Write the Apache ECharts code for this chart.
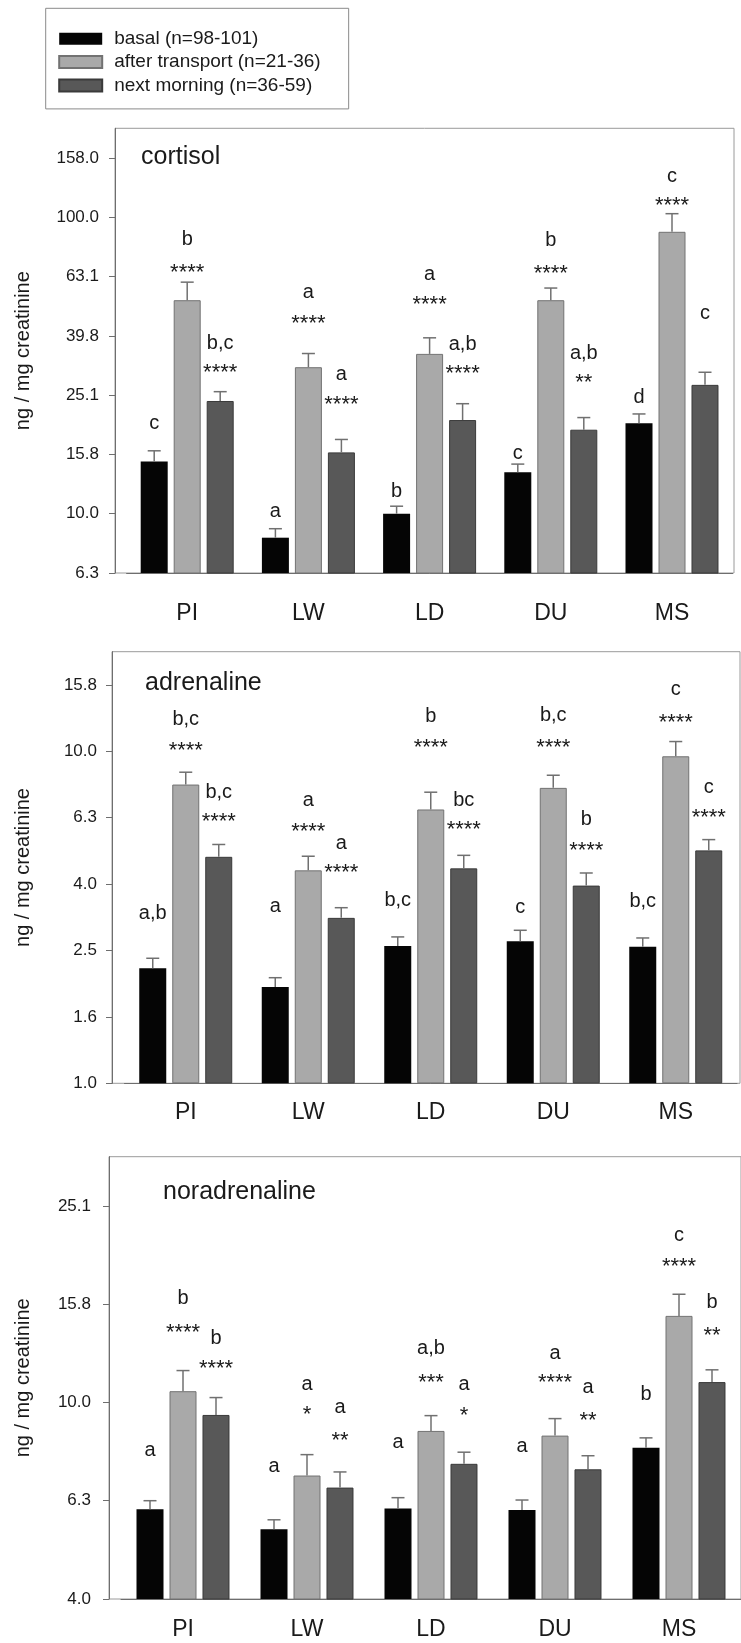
<!DOCTYPE html>
<html><head><meta charset="utf-8">
<script src="https://cdn.jsdelivr.net/npm/echarts@6/dist/echarts.min.js"></script>
<style>html,body{margin:0;padding:0;background:#fff}#c{width:741px;height:1643px}</style>
</head><body><div id="c"></div>
<script>
// ---------- data ----------
const categories = ['PI', 'LW', 'LD', 'DU', 'MS'];
const seriesNames = ['basal (n=98-101)', 'after transport (n=21-36)', 'next morning (n=36-59)'];
const yAxisName = 'ng / mg creatinine';
const panelTitles = ['cortisol', 'adrenaline', 'noradrenaline'];

// cortisol (ng / mg creatinine), mean and upper error (SE)
const cortisolBasal = [15.0, 8.3, 10.0, 13.8, 20.2];
const cortisolBasalSE = [1.3, 0.6, 0.6, 0.9, 1.5];
const cortisolAfter = [52.5, 31.2, 34.6, 52.5, 89.3];
const cortisolAfterSE = [7.9, 3.5, 4.6, 5.2, 13.5];
const cortisolNext = [24.0, 16.1, 20.7, 19.2, 27.2];
const cortisolNextSE = [1.8, 1.7, 2.8, 1.9, 2.8];
const cortisolTickLabels = ['6.3', '10.0', '15.8', '25.1', '39.8', '63.1', '100.0', '158.0'];
const cortisolLetters = [['c', 'b', 'b,c'], ['a', 'a', 'a'], ['b', 'a', 'a,b'], ['c', 'b', 'a,b'], ['d', 'c', 'c']];
const cortisolLetterY = [[20.1, 84.4, 37.5], [10.2, 55.6, 29.4], [11.9, 64.1, 37.2], [16.0, 83.7, 34.8], [24.6, 137.7, 47.5]];
const cortisolStars = [['', '****', '****'], ['', '****', '****'], ['', '****', '****'], ['', '****', '**'], ['', '****', '']];
const cortisolStarY = [[null, 67.3, 31.1], [null, 45.5, 24.2], [null, 52.8, 30.8], [null, 66.9, 28.7], [null, 113.6, null]];

// adrenaline
const adrenalineBasal = [2.22, 1.95, 2.59, 2.68, 2.58];
const adrenalineBasalSE = [0.16, 0.13, 0.17, 0.21, 0.16];
const adrenalineAfter = [7.94, 4.38, 6.68, 7.76, 9.66];
const adrenalineAfterSE = [0.71, 0.45, 0.85, 0.71, 1.04];
const adrenalineNext = [4.81, 3.15, 4.44, 3.94, 5.03];
const adrenalineNextSE = [0.43, 0.23, 0.42, 0.36, 0.39];
const adrenalineTickLabels = ['1.0', '1.6', '2.5', '4.0', '6.3', '10.0', '15.8'];
const adrenalineLetters = [['a,b', 'b,c', 'b,c'], ['a', 'a', 'a'], ['b,c', 'b', 'bc'], ['c', 'b,c', 'b'], ['b,c', 'c', 'c']];
const adrenalineLetterY = [[3.25, 12.5, 7.51], [3.41, 7.13, 5.26], [3.55, 12.7, 7.13], [3.39, 12.8, 6.23], [3.53, 15.4, 7.76]];
const adrenalineStars = [['', '****', '****'], ['', '****', '****'], ['', '****', '****'], ['', '****', '****'], ['', '****', '****']];
const adrenalineStarY = [[null, 10.4, 6.35], [null, 5.90, 4.46], [null, 10.6, 6.01], [null, 10.6, 5.20], [null, 12.6, 6.53]];

// noradrenaline
const noradrenalineBasal = [6.06, 5.52, 6.08, 6.04, 8.09];
const noradrenalineBasalSE = [0.25, 0.25, 0.32, 0.29, 0.38];
const noradrenalineAfter = [10.54, 7.10, 8.75, 8.56, 15.0];
const noradrenalineAfterSE = [1.07, 0.73, 0.65, 0.71, 1.6];
const noradrenalineNext = [9.43, 6.71, 7.50, 7.31, 11.0];
const noradrenalineNextSE = [0.80, 0.51, 0.42, 0.48, 0.65];
const noradrenalineTickLabels = ['4.0', '6.3', '10.0', '15.8', '25.1'];
const noradrenalineLetters = [['a', 'b', 'b'], ['a', 'a', 'a'], ['a', 'a,b', 'a'], ['a', 'a', 'a'], ['b', 'c', 'b']];
const noradrenalineLetterY = [[7.97, 16.3, 13.5], [7.40, 10.9, 9.78], [8.29, 12.9, 10.9], [8.13, 12.6, 10.7], [10.4, 21.9, 16.0]];
const noradrenalineStars = [['', '****', '****'], ['', '*', '**'], ['', '***', '*'], ['', '****', '**'], ['', '****', '**']];
const noradrenalineStarY = [[null, 14.2, 11.97], [null, 9.65, 8.56], [null, 11.2, 9.61], [null, 11.2, 9.40], [null, 19.3, 14.0]];

// ---------- style / layout ----------
const FONT = '"Liberation Sans", Arial, Helvetica, sans-serif';
const TEXT = '#1a1a1a';
const AXIS = '#6e6e6e';
const FRAME = '#9a9a9a';
const BAR_W = 27, BAR_GAP = 6, PITCH = BAR_W + BAR_GAP;
const FILL = ['#050505', '#a9a9a9', '#585858'];
const EDGE = ['#050505', '#727272', '#3a3a3a'];
const ERR = '#707070';
const STEP = 0.2; // log10 tick step

const panels = [
  { min: 0.8, max: 2.3, ticks: cortisolTickLabels,
    means: [cortisolBasal, cortisolAfter, cortisolNext], se: [cortisolBasalSE, cortisolAfterSE, cortisolNextSE],
    letters: cortisolLetters, letterY: cortisolLetterY, stars: cortisolStars, starY: cortisolStarY,
    frame: { left: 115, top: 128.3, right: 734, bottom: 573 }, plotLeft: 126.6, plotRight: 732.6,
    labelMargin: 16, catMargin: 29, nameGap: 82, title: [141, 144.8] },
  { min: 0, max: 1.3, ticks: adrenalineTickLabels,
    means: [adrenalineBasal, adrenalineAfter, adrenalineNext], se: [adrenalineBasalSE, adrenalineAfterSE, adrenalineNextSE],
    letters: adrenalineLetters, letterY: adrenalineLetterY, stars: adrenalineStars, starY: adrenalineStarY,
    frame: { left: 112, top: 651.7, right: 740, bottom: 1083.3 }, plotLeft: 124.5, plotRight: 737,
    labelMargin: 15, catMargin: 18, nameGap: 79, title: [145, 670.8] },
  { min: 0.6, max: 1.5, ticks: noradrenalineTickLabels,
    means: [noradrenalineBasal, noradrenalineAfter, noradrenalineNext], se: [noradrenalineBasalSE, noradrenalineAfterSE, noradrenalineNextSE],
    letters: noradrenalineLetters, letterY: noradrenalineLetterY, stars: noradrenalineStars, starY: noradrenalineStarY,
    frame: { left: 109, top: 1156.7, right: 742, bottom: 1599 }, plotLeft: 121, plotRight: 743,
    labelMargin: 18, catMargin: 19, nameGap: 76, title: [163, 1179.2] }
];

const grid = [], xAxis = [], yAxis = [], series = [], title = [];

panels.forEach((p, k) => {
  const f = p.frame;
  // frame grid (box around the panel)
  grid.push({ left: f.left, top: f.top, width: f.right - f.left, height: f.bottom - f.top,
    show: true, borderColor: FRAME, borderWidth: 1, backgroundColor: 'transparent' });
  xAxis.push({ gridIndex: k, type: 'value', show: false, min: 0, max: 1 });
  yAxis.push({ gridIndex: k, type: 'value', show: false, min: 0, max: 1 });
});

panels.forEach((p, k) => {
  const f = p.frame;
  const gi = 3 + k;
  grid.push({ left: p.plotLeft, top: f.top, width: p.plotRight - p.plotLeft, height: f.bottom - f.top });
  xAxis.push({
    gridIndex: gi, type: 'category', data: categories,
    axisLine: { lineStyle: { color: AXIS, width: 1 } },
    axisTick: { alignWithLabel: true, length: 5, lineStyle: { color: AXIS } },
    axisLabel: { fontSize: 23, color: TEXT, fontFamily: FONT, margin: p.catMargin, lineHeight: 23 }
  });
  const tickVals = p.ticks.map((_, i) => +(p.min + i * STEP).toFixed(4));
  yAxis.push({
    gridIndex: gi, type: 'value', min: p.min, max: p.max, interval: STEP,
    offset: p.plotLeft - f.left,
    name: yAxisName, nameLocation: 'middle', nameGap: p.nameGap,
    nameTextStyle: { fontSize: 20, color: TEXT, fontFamily: FONT, lineHeight: 20 },
    axisLine: { show: true, lineStyle: { color: AXIS, width: 1 } },
    axisTick: { show: true, length: 6, lineStyle: { color: AXIS }, customValues: tickVals },
    splitLine: { show: false },
    axisLabel: {
      fontSize: 17, color: TEXT, fontFamily: FONT, margin: p.labelMargin,
      customValues: tickVals, showMaxLabel: true, showMinLabel: true,
      formatter: (v) => {
        const i = Math.round((v - p.min) / STEP);
        if (Math.abs(v - (p.min + i * STEP)) > 1e-6) return '';
        return p.ticks[i] !== undefined ? p.ticks[i] : '';
      }
    }
  });

  title.push({ text: panelTitles[k], left: p.title[0], top: p.title[1], padding: 0,
    textStyle: { fontSize: 25, fontWeight: 'normal', color: TEXT, fontFamily: FONT, lineHeight: 25 } });

  // bars
  for (let i = 0; i < 3; i++) {
    series.push({
      type: 'bar', name: seriesNames[i], xAxisIndex: gi, yAxisIndex: gi,
      data: p.means[i].map(v => Math.log10(v)),
      barWidth: BAR_W, barGap: (BAR_GAP / BAR_W * 100).toFixed(2) + '%',
      itemStyle: { color: FILL[i], borderColor: EDGE[i], borderWidth: i === 0 ? 0 : 1 },
      clip: true, silent: true
    });
  }

  // error bars
  const errData = [];
  categories.forEach((c, ci) => {
    for (let i = 0; i < 3; i++) {
      const m = p.means[i][ci];
      errData.push([ci, Math.log10(m), Math.log10(m + p.se[i][ci]), i]);
    }
  });
  series.push({
    type: 'custom', xAxisIndex: gi, yAxisIndex: gi, data: errData, silent: true, z: 3,
    renderItem: (params, api) => {
      const ci = api.value(0), grp = api.value(3);
      const p0 = api.coord([ci, api.value(1)]);
      const p1 = api.coord([ci, api.value(2)]);
      const x = p0[0] + (grp - 1) * PITCH;
      const st = { stroke: ERR, lineWidth: 1.5 };
      return { type: 'group', children: [
        { type: 'line', shape: { x1: x, y1: p0[1], x2: x, y2: p1[1] }, style: st },
        { type: 'line', shape: { x1: x - 6.5, y1: p1[1], x2: x + 6.5, y2: p1[1] }, style: st }
      ] };
    }
  });

  // significance annotations
  const ann = [];
  categories.forEach((c, ci) => {
    for (let i = 0; i < 3; i++) {
      if (p.letters[ci][i]) ann.push({ ci, i, text: p.letters[ci][i], y: p.letterY[ci][i], star: false });
      if (p.stars[ci][i]) ann.push({ ci, i, text: p.stars[ci][i], y: p.starY[ci][i], star: true });
    }
  });
  series.push({
    type: 'custom', xAxisIndex: gi, yAxisIndex: gi, silent: true, z: 4,
    data: ann.map(a => [a.ci, Math.log10(a.y), a.i]),
    renderItem: (params, api) => {
      const a = ann[params.dataIndex];
      const pt = api.coord([api.value(0), api.value(1)]);
      const x = pt[0] + (api.value(2) - 1) * PITCH;
      return { type: 'text', x: x, y: pt[1] + (a.star ? 5 : 0),
        style: { text: a.text, fill: TEXT, fontSize: a.star ? 22 : 20, fontFamily: FONT,
          align: 'center', verticalAlign: 'middle' } };
    }
  });
});

const option = {
  animation: false,
  backgroundColor: '#ffffff',
  title: title,
  legend: {
    data: seriesNames, orient: 'vertical', left: 45.7, top: 8.3,
    padding: [21, 28, 14, 12.5], itemWidth: 43, itemHeight: 12, itemGap: 4.3,
    borderColor: '#8a8a8a', borderWidth: 1, icon: 'rect', selectedMode: false,
    textStyle: { fontSize: 19, color: TEXT, fontFamily: FONT, lineHeight: 19, padding: [0, 0, 0, 7] }
  },
  grid: grid, xAxis: xAxis, yAxis: yAxis, series: series
};

const chart = echarts.init(document.getElementById('c'), null, { renderer: 'canvas' });
chart.setOption(option);
</script>
</body></html>
